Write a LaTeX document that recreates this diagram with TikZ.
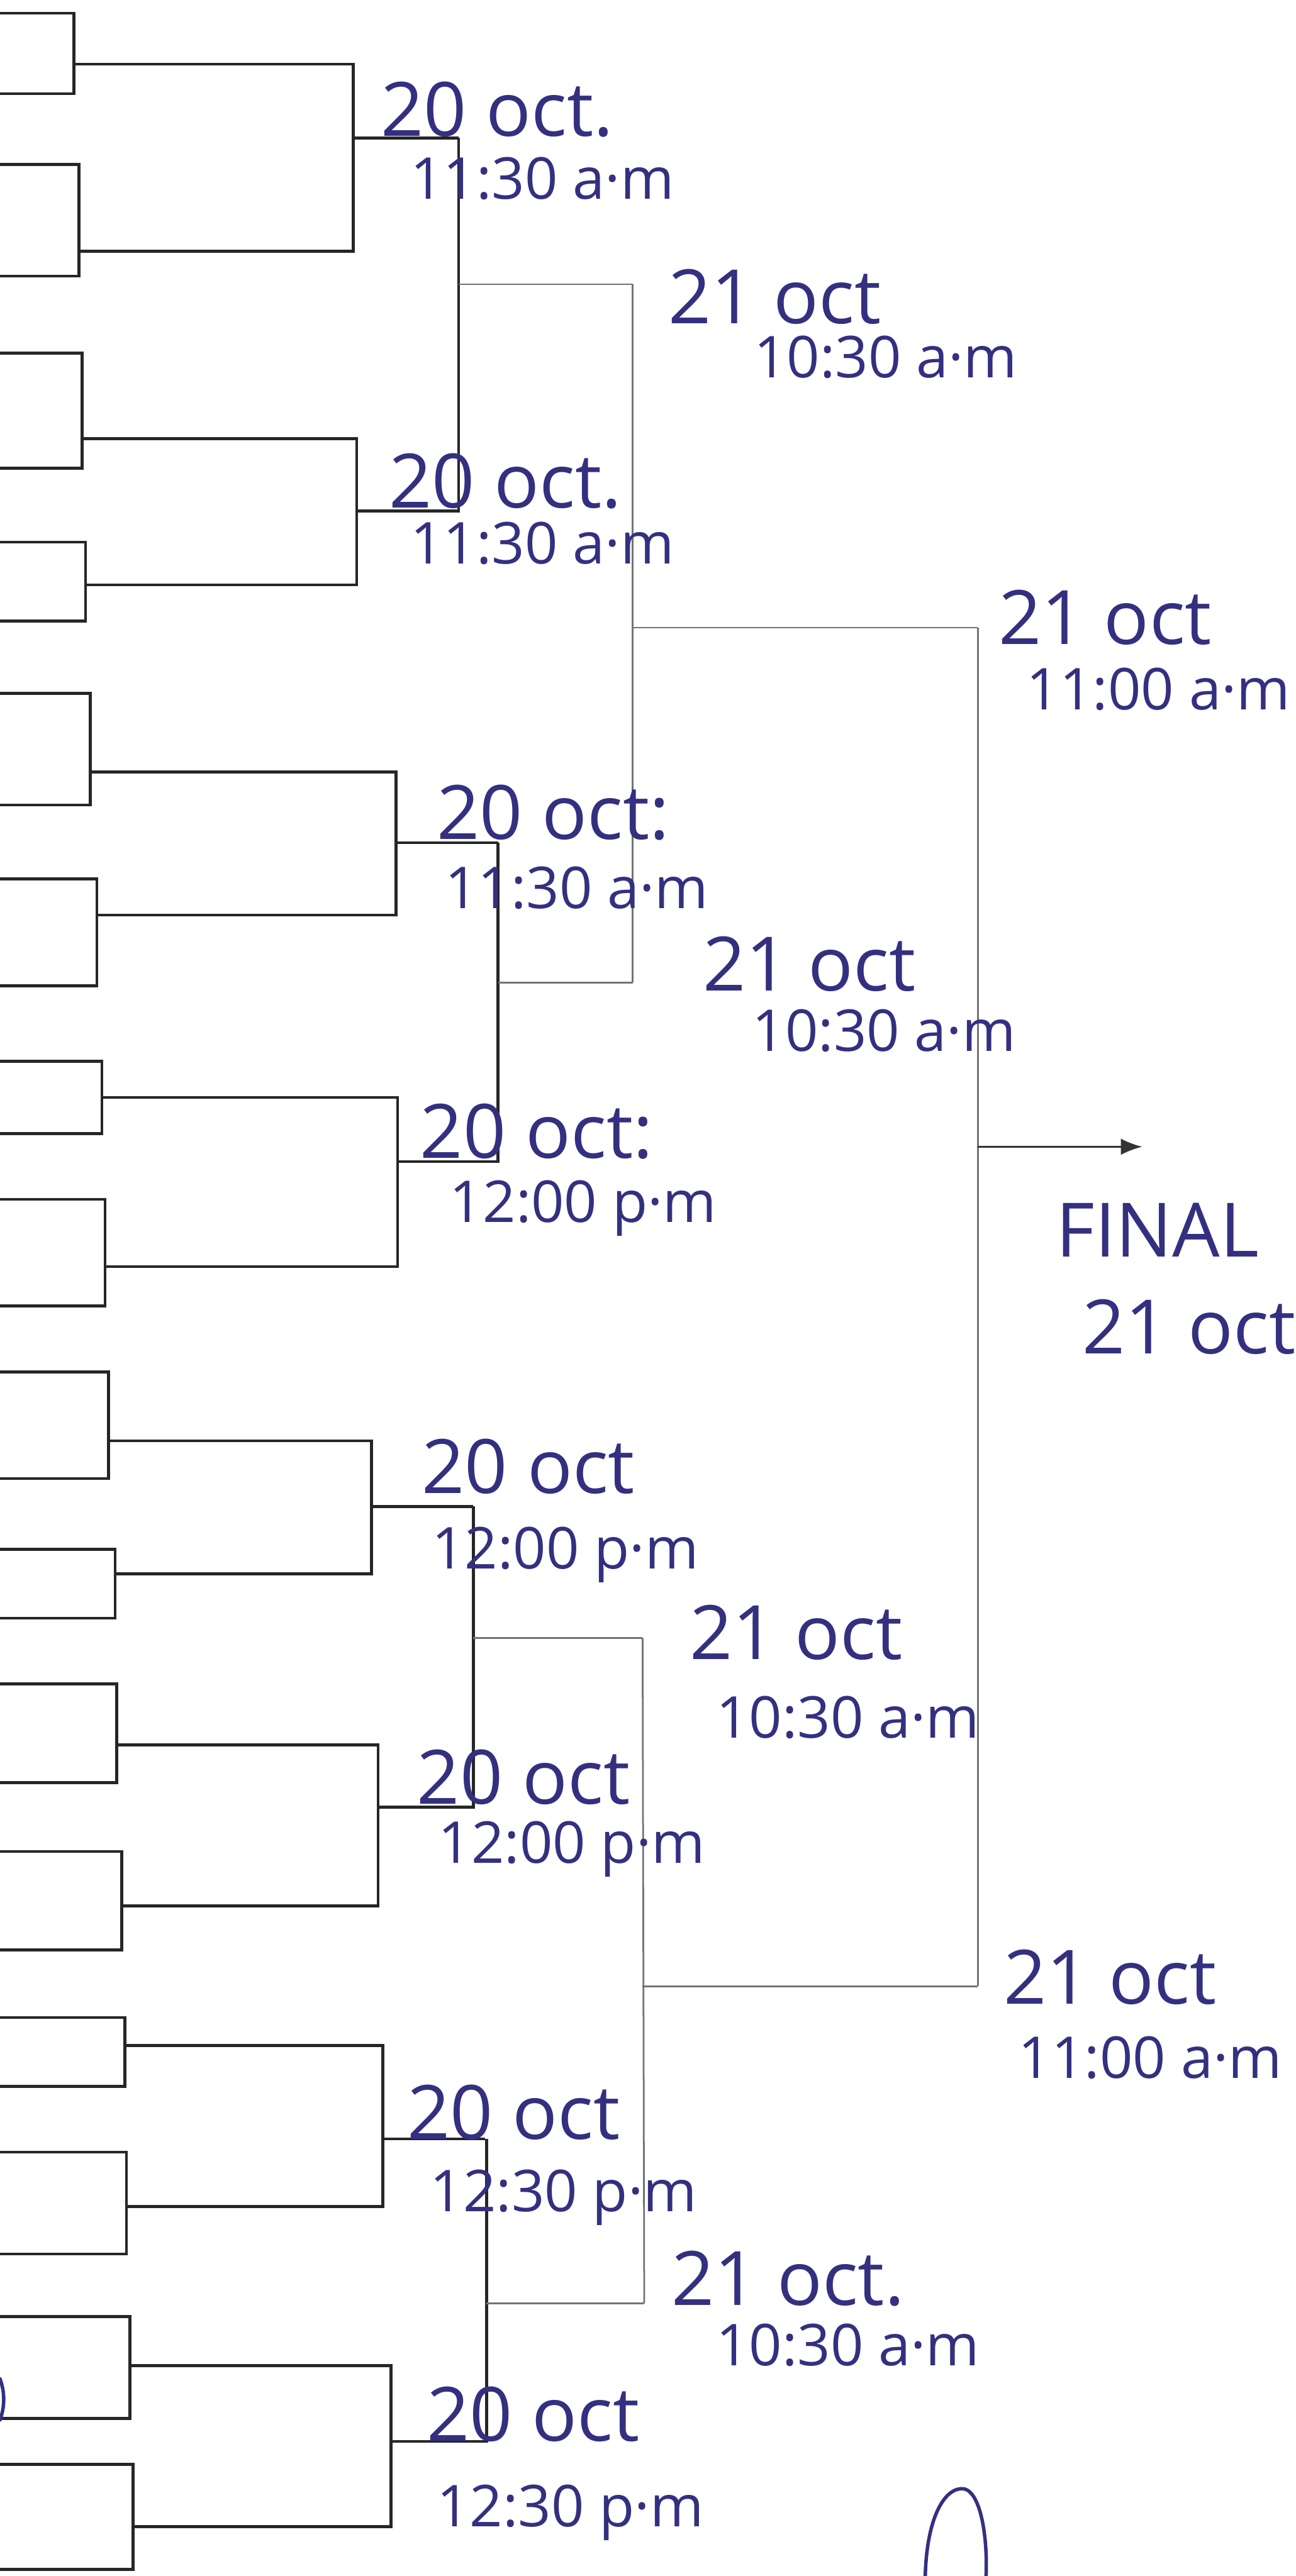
\documentclass[tikz,border=0pt]{standalone}
\usepackage{fontspec}
\setmainfont{Open Sans}
\usetikzlibrary{arrows.meta}
\definecolor{ink}{RGB}{52,48,128}
\tikzset{
	bracket/.style={line width=0.5pt, black!85},
	faint/.style={line width=0.3pt, black!55},
	daylbl/.style={ink, anchor=base west, inner sep=0pt, font=\fontsize{13}{13}\selectfont},
	hourlbl/.style={ink, anchor=base west, inner sep=0pt, font=\fontsize{10}{10}\selectfont},
	scrawl/.style={ink, line width=0.6pt, line cap=round},
}
\begin{document}
\begin{tikzpicture}[x=0.1mm, y=-0.1mm]
	\useasboundingbox (0,0) rectangle (788.4,1568);
	% entries, open on the left edge
	\foreach \t/\b/\r in {8/57/45, 100/168/48, 215/285/50, 330/378/52, 422/490/55, 535/600/59, 646/690/62, 730/795/64,
		835/900/66, 943/985/70, 1025/1085/71, 1127/1187/74, 1228/1270/76, 1310/1372/77, 1410/1472/79, 1500/1564/81} {
		\draw[bracket] (0,\t) -- (\r,\t) -- (\r,\b) -- (0,\b);
	}
	% round 1 : 20 oct
	\foreach \ya/\ra/\yb/\rb/\x/\m/\e in {39/45/153/48/215/84/279, 267/50/356/52/217/311/280, 470/55/557/59/241/513/303,
		668/62/771/64/242/707/304, 877/66/958/70/226/917/288, 1062/71/1160/74/230/1100/289,
		1245/76/1343/77/233/1302/295, 1440/79/1538/81/238/1486/297} {
		\draw[bracket] (\ra,\ya) -- (\x,\ya) -- (\x,\yb) -- (\rb,\yb);
		\draw[bracket] (\x,\m) -- (\e,\m);
	}
	% round 2 : 21 oct 10:30
	\foreach \x/\ya/\yb/\m/\e in {279/84/311/173/385, 303/513/707/598/385, 288/917/1100/997/391, 296/1302/1486/1402/392} {
		\draw[bracket] (\x,\ya) -- (\x,\yb);
		\draw[faint] (\x,\m) -- (\e,\m);
	}
	% round 3 : 21 oct 11:00
	\draw[faint] (385,173) -- (385,598);
	\draw[faint] (391,997) -- (392,1402);
	\draw[faint] (385,382) -- (595,382);
	\draw[faint] (391,1209) -- (595,1209);
	% final
	\draw[faint] (595,382) -- (595,1209);
	\coordinate (fin) at (595,698);
	\coordinate (fin end) at (695,698);
	\draw[faint, black!80, -{Latex[length=1.3mm, width=1mm]}] (fin) -- (fin end);
	\node[daylbl] (final) at (642,765) {FINAL};
	\node[daylbl] (final day) at (658,824) {21 oct};
	% dates and times
	\foreach \i/\xd/\yd/\daytxt/\xh/\yh/\hourtxt in {
		1/231/83/20 oct./249/121/11:30 a·m, 2/236/309/20 oct./249/343/11:30 a·m,
		3/265/511/20 oct:/270/553/11:30 a·m, 4/255/705/20 oct:/273/744/12:00 p·m,
		5/256/909/20 oct/262/955/12:00 p·m, 6/253/1098/20 oct/266/1134/12:00 p·m,
		7/247/1302/20 oct/261/1346/12:30 p·m, 8/259/1486/20 oct/265/1538/12:30 p·m,
		9/406/197/21 oct/458/230/10:30 a·m, 10/427/603/21 oct/457/640/10:30 a·m,
		11/419/1010/21 oct/435/1058/10:30 a·m, 12/408/1403/21 oct./435/1440/10:30 a·m,
		13/607/392/21 oct/624/432/11:00 a·m, 14/610/1220/21 oct/619/1265/11:00 a·m} {
		\node[daylbl] (day\i) at (\xd,\yd) {\daytxt};
		\node[hourlbl] (hour\i) at (\xh,\yh) {\hourtxt};
	}
	% stray pen marks
	\draw[scrawl] (563,1568) .. controls (564,1530) and (576,1513) .. (587,1515) .. controls (597,1518) and (601,1545) .. (600,1568);
	\draw[scrawl] (0,1448) .. controls (3,1456) and (3,1465) .. (0,1473);
\end{tikzpicture}
\end{document}
